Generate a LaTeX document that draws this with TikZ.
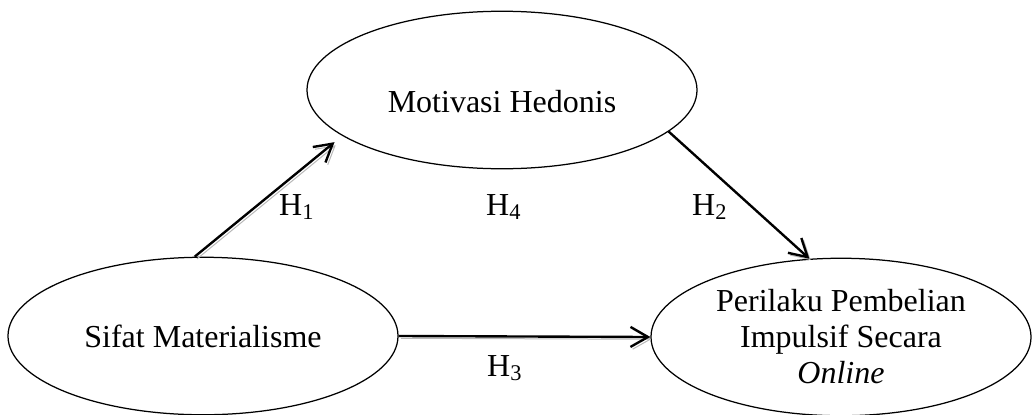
\documentclass[tikz,border=0pt]{standalone}
\usepackage{fontspec}
\setmainfont{Liberation Serif}
\usepackage{tikz}
\usetikzlibrary{shapes.geometric,arrows.meta}
\tikzset{
  varell/.style = {draw, ellipse, line width=0.5pt, inner sep=0pt,
                   minimum width=156pt, minimum height=63pt, align=center,
                   font=\fontsize{12.8}{14.4}\selectfont},
  hyp/.style    = {-{Straight Barb[length=7pt,width=8pt]}, line width=0.95pt,
                   preaction={draw=black!28, transform canvas={shift={(0.9pt,-0.9pt)}}}},
  hlab/.style   = {font=\fontsize{12.8}{14.4}\selectfont, anchor=base, inner sep=0pt},
}

\begin{document}
\begin{tikzpicture}[x=0.4pt, y=-0.4pt]
    \useasboundingbox (0,0) rectangle (1032,414);

    % variables
    \node[varell] (hed) at (502,90) {\raisebox{-4.6pt}[9pt][0pt]{Motivasi Hedonis}};
    \node[varell] (mat) at (203,336) {Sifat Materialisme};
    \node[varell, minimum width=152pt] (pib) at (841,337)
      {Perilaku Pembelian\\Impulsif Secara\\\emph{Online}};

    % hypotheses
    \draw[hyp, shorten >=4pt] (mat.96) -- (hed.196);
    \draw[hyp] (hed.346) -- (pib.112);
    \draw[hyp] (mat.east) -- (pib.west);

    \node[hlab] (h1) at (297,215) {H\textsubscript{1}};
    \node[hlab] (h4) at (504,215) {H\textsubscript{4}};
    \node[hlab] (h2) at (710,215) {H\textsubscript{2}};
    \node[hlab] (h3) at (505,376) {H\textsubscript{3}};
  \end{tikzpicture}
\end{document}
